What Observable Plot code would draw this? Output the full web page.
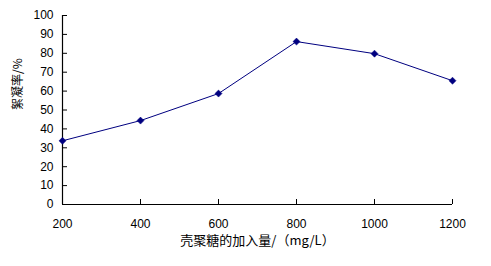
<!DOCTYPE html>
<html>
<head>
<meta charset="utf-8">
<script src="https://cdn.jsdelivr.net/npm/d3@7"></script>
<script src="https://cdn.jsdelivr.net/npm/@observablehq/plot@0.6"></script>
<style>
  html, body { margin: 0; padding: 0; background: #fff; }
</style>
</head>
<body>
<div id="chart"></div>
<script>
const dosage = [200, 400, 600, 800, 1000, 1200];
const flocRate = [33.7, 44.4, 58.7, 86.2, 79.8, 65.5];
const xTicks = [200, 400, 600, 800, 1000, 1200];
const yTicks = [0, 10, 20, 30, 40, 50, 60, 70, 80, 90, 100];
const xTitle = "壳聚糖的加入量/（mg/L）";
const yTitle = "絮凝率/%";

const data = dosage.map((x, i) => ({x, y: flocRate[i]}));
const navy = "#000080";

const chart = Plot.plot({
  width: 491,
  height: 266,
  marginLeft: 62,
  marginRight: 39,
  marginTop: 15,
  marginBottom: 62,
  style: {background: "#fff", fontFamily: "'Liberation Sans', Arial, sans-serif", fontSize: "12px", color: "#000"},
  x: {domain: [200, 1200]},
  y: {domain: [0, 100]},
  marks: [
    Plot.ruleX([200], {stroke: "#000", strokeWidth: 1.2}),
    Plot.ruleY([0], {stroke: "#000", strokeWidth: 1.2}),
    Plot.axisY({ticks: yTicks, tickSize: -5, tickPadding: 14, tickFormat: d3.format("d"), label: null, stroke: "#000"}),
    Plot.axisX({ticks: xTicks, tickSize: -5, tickPadding: 20, tickFormat: d3.format("d"), label: null, stroke: "#000"}),
    Plot.line(data, {x: "x", y: "y", stroke: navy, strokeWidth: 1}),
    Plot.dot(data, {x: "x", y: "y", symbol: "square", rotate: 45, r: 2.8, fill: navy, stroke: navy, strokeWidth: 0.5}),
    Plot.text([xTitle], {frameAnchor: "bottom", dy: 40, fontSize: 13, fontFamily: "'Noto Sans CJK SC', sans-serif", fill: "#000"}),
    Plot.text([yTitle], {frameAnchor: "left", dx: -44, rotate: -90, fontSize: 12, fontFamily: "'Noto Sans CJK SC', sans-serif", fill: "#000"})
  ]
});
document.getElementById("chart").appendChild(chart);
</script>
</body>
</html>
